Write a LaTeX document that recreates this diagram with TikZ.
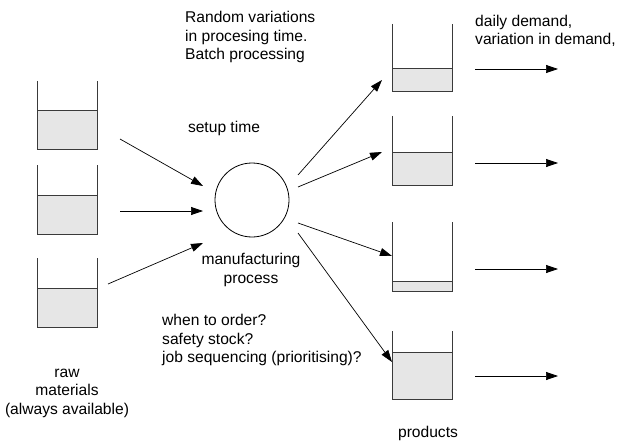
\documentclass[tikz,border=0pt]{standalone}
\usepackage{fontspec}
\setmainfont{Liberation Sans}
\usetikzlibrary{arrows.meta}
\definecolor{tankfill}{HTML}{E6E6E6}
\definecolor{wall}{HTML}{3A3A3A}
\tikzset{
  flow/.style={draw=black, line width=0.7pt, -{Triangle[length=12pt,width=8pt]}},
  lbl/.style={inner sep=0pt, font=\fontsize{15.6}{18.5}\selectfont},
  tankwall/.style={draw=wall, line width=1pt},
  tanklevel/.style={draw=wall, line width=1pt, fill=tankfill},
}
% #1 left x, #2 right x, #3 top y, #4 fill level y, #5 bottom y
\newcommand{\mytank}[5]{%
  \path[tanklevel] (#1,#4) rectangle (#2,#5);
  \path[tankwall] (#1,#3) -- (#1,#5) -- (#2,#5) -- (#2,#3);
}
\begin{document}
\begin{tikzpicture}[x=1pt,y=-1pt]
\useasboundingbox (0,0) rectangle (626,441);

% raw material tanks
\mytank{37}{97}{81}{111}{149}
\mytank{37}{97}{165}{195}{234}
\mytank{37}{97}{258}{288}{327}

% product tanks
\mytank{392}{452}{24}{69}{92}
\mytank{392}{452}{116}{152}{185}
\mytank{392}{452}{222}{281}{291}
\mytank{392}{452}{331}{352}{399}

% process
\node[draw=black, line width=0.8pt, circle, minimum size=74pt, inner sep=0pt] (proc) at (252,200) {};

% coordinates
\coordinate (r1) at (120,139); \coordinate (r1e) at (203,186);
\coordinate (r2) at (120,211); \coordinate (r2e) at (203,211);
\coordinate (r3) at (108,284); \coordinate (r3e) at (203,243);
\coordinate (p1) at (298,175); \coordinate (p1e) at (382,80);
\coordinate (p2) at (298,187); \coordinate (p2e) at (382,152);
\coordinate (p3) at (298,223); \coordinate (p3e) at (392,256);
\coordinate (p4) at (298,233); \coordinate (p4e) at (392,362);
\foreach \i/\y in {1/69,2/163,3/269,4/376}{
  \coordinate (o\i) at (475,\y); \coordinate (o\i e) at (558,\y);
}

\draw[flow] (r1) -- (r1e);
\draw[flow] (r2) -- (r2e);
\draw[flow] (r3) -- (r3e);
\draw[flow] (p1) -- (p1e);
\draw[flow] (p2) -- (p2e);
\draw[flow] (p3) -- (p3e);
\draw[flow] (p4) -- (p4e);
\foreach \i in {1,2,3,4}{ \draw[flow] (o\i) -- (o\i e); }

% labels
\node[lbl, anchor=west, align=left] (tvar) at (185,37) {Random variations\\in procesing time.\\Batch processing};
\node[lbl] (tsetup) at (224,128) {setup time};
\node[lbl, align=center] (tproc) at (251,270) {manufacturing\\process};
\node[lbl, anchor=west, align=left] (tq) at (162,340) {when to order?\\safety stock?\\job sequencing (prioritising)?};
\node[lbl, align=center] (traw) at (67,393) {raw\\materials\\(always available)};
\node[lbl, anchor=west, align=left] (tdem) at (475,31) {daily demand,\\variation in demand,};
\node[lbl] (tprod) at (428,433) {products};
\end{tikzpicture}
\end{document}
